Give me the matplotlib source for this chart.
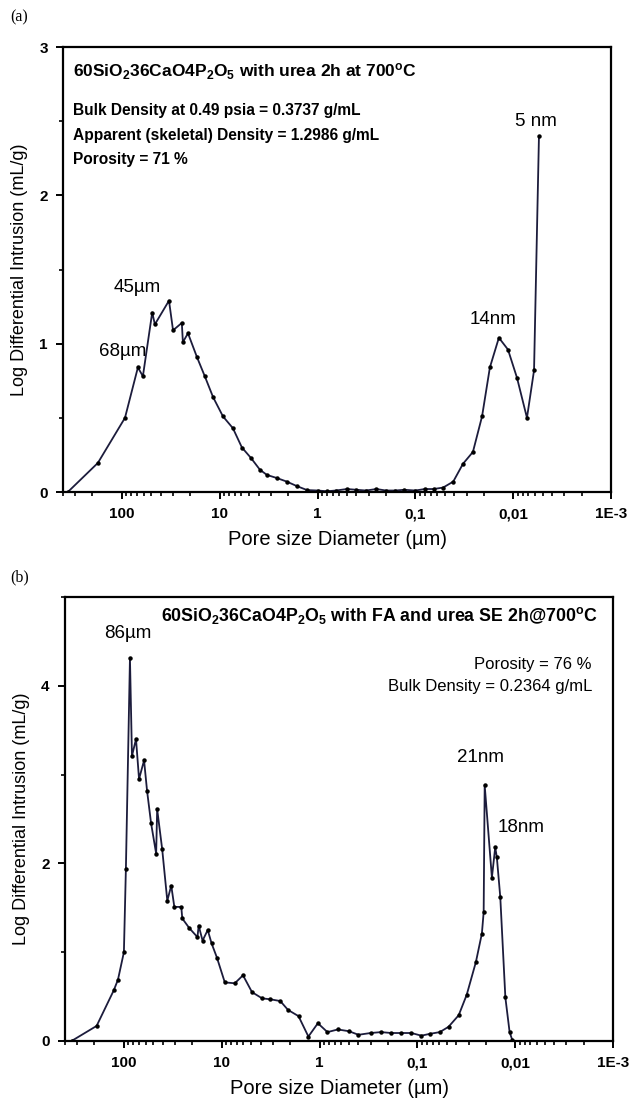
import matplotlib
matplotlib.use("Agg")
import matplotlib.pyplot as plt
from matplotlib.ticker import FixedLocator, LogLocator, NullFormatter, MultipleLocator

plt.rcParams['font.family'] = ['Liberation Sans', 'DejaVu Sans']
plt.rcParams['mathtext.fontset'] = 'custom'
plt.rcParams['mathtext.rm'] = 'Liberation Sans'
plt.rcParams['mathtext.bf'] = 'Liberation Sans:bold'
plt.rcParams['mathtext.it'] = 'Liberation Sans:italic'

# ---------------- data ----------------
# panel (a)
a_diam = [357, 176, 93, 68.6, 61, 49, 46, 33, 30, 24.4, 23.8, 21.1, 17.1, 14.2, 11.7,
          9.27, 7.33, 5.93, 4.8, 3.88, 3.29, 2.6, 2.06, 1.63, 1.28, 1.0, 0.8, 0.65, 0.5,
          0.4, 0.32, 0.25, 0.2, 0.16, 0.13, 0.1, 0.08, 0.065, 0.052, 0.041, 0.0326, 0.0258,
          0.0208, 0.0173, 0.014, 0.0113, 0.00914, 0.00723, 0.00612, 0.00545]
a_intr = [0.0, 0.196, 0.50, 0.84, 0.78, 1.21, 1.13, 1.29, 1.09, 1.14, 1.01, 1.07, 0.91,
          0.78, 0.64, 0.51, 0.43, 0.30, 0.23, 0.15, 0.115, 0.094, 0.07, 0.04, 0.013, 0.01,
          0.005, 0.01, 0.02, 0.015, 0.01, 0.02, 0.01, 0.01, 0.015, 0.01, 0.02, 0.02, 0.03,
          0.07, 0.19, 0.27, 0.51, 0.84, 1.04, 0.96, 0.77, 0.50, 0.82, 2.40]

# panel (b)
b_diam = [343, 190, 127, 115, 100, 95.4, 86.7, 82.7, 75.2, 70, 62.2, 58, 52.7, 46.8, 45.7,
          40.6, 36, 32.8, 30.5, 25.9, 25.3, 21.4, 17.7, 17.2, 15.7, 13.9, 12.7, 11.2, 9.3,
          7.35, 6.06, 4.9, 3.86, 3.2, 2.52, 2.1, 1.64, 1.3, 1.04, 0.83, 0.65, 0.5, 0.4, 0.3,
          0.235, 0.185, 0.146, 0.115, 0.091, 0.075, 0.059, 0.048, 0.0378, 0.0313, 0.0252,
          0.0219, 0.021, 0.0205, 0.0173, 0.016, 0.0154, 0.0142, 0.0126, 0.0114, 0.0107]
b_intr = [0.0, 0.17, 0.57, 0.69, 1.0, 1.94, 4.31, 3.21, 3.40, 2.95, 3.16, 2.82, 2.45, 2.11,
          2.61, 2.16, 1.58, 1.75, 1.51, 1.51, 1.38, 1.27, 1.17, 1.30, 1.13, 1.25, 1.10, 0.94,
          0.66, 0.65, 0.74, 0.55, 0.48, 0.47, 0.45, 0.35, 0.28, 0.05, 0.20, 0.10, 0.13, 0.11,
          0.07, 0.09, 0.10, 0.09, 0.09, 0.09, 0.06, 0.08, 0.10, 0.16, 0.29, 0.52, 0.89, 1.21,
          1.45, 2.88, 1.84, 2.18, 2.07, 1.62, 0.49, 0.10, 0.01]

x_ticks = [100, 10, 1, 0.1, 0.01, 0.001]
x_ticklabels = ["100", "10", "1", "0,1", "0,01", "1E-3"]

LINE = '#1c1c3c'

fig = plt.figure(figsize=(6.32, 11.03), dpi=100)
W, H = 632, 1103

def add_ax(l, r, t, b):
    return fig.add_axes([l / W, 1 - b / H, (r - l) / W, (b - t) / H])

ax1 = add_ax(63, 611, 47, 492)
ax2 = add_ax(65, 613, 597, 1041)

def style(ax, ymax, ymajor, yminor):
    ax.set_xscale('log')
    ax.set_xlim(400, 0.001)
    ax.set_ylim(0, ymax)
    ax.xaxis.set_major_locator(FixedLocator(x_ticks))
    ax.set_xticklabels(x_ticklabels)
    ax.xaxis.set_minor_locator(LogLocator(base=10, subs=range(2, 10), numticks=20))
    ax.xaxis.set_minor_formatter(NullFormatter())
    ax.yaxis.set_major_locator(MultipleLocator(ymajor))
    ax.yaxis.set_minor_locator(MultipleLocator(yminor))
    for s in ax.spines.values():
        s.set_linewidth(1.6)
        s.set_color('black')
    ax.tick_params(which='major', direction='out', length=5, width=1.4,
                   labelsize=11, pad=6, top=False, right=False)
    ax.tick_params(which='minor', direction='out', length=3, width=1.2,
                   top=False, right=False)
    for lab in ax.get_xticklabels() + ax.get_yticklabels():
        lab.set_fontweight('bold')
    ax.set_xlabel("Pore size Diameter (\u00b5m)", fontsize=14.5, labelpad=6)
    ax.set_ylabel("Log Differential Intrusion (mL/g)", fontsize=13, labelpad=8)

style(ax1, 3, 1, 0.5)
style(ax2, 5, 2, 1)

ax1.plot(a_diam, a_intr, color=LINE, lw=1.3, marker='o', ms=2.2, mfc='black', mec='black')
ax2.plot(b_diam, b_intr, color=LINE, lw=1.3, marker='o', ms=2.2, mfc='black', mec='black')

def pt(x, y):
    return (x / W, 1 - y / H)

# panel labels
fig.text(*pt(10, 17), "(a)", family='Liberation Serif', fontsize=11.5, va='center', ha='left')
fig.text(*pt(10, 577), "(b)", family='Liberation Serif', fontsize=11.5, va='center', ha='left')

# panel (a) texts
fig.text(*pt(73, 77), r"60SiO$_\mathbf{2}$36CaO4P$_\mathbf{2}$O$_\mathbf{5}$ with urea 2h at 700$^\mathbf{o}$C",
         fontsize=12.5, fontweight='bold', va='baseline', ha='left')
fig.text(*pt(73, 115), "Bulk Density at 0.49 psia = 0.3737 g/mL", fontsize=11.2, fontweight='bold',
         va='baseline', ha='left')
fig.text(*pt(73, 140), "Apparent (skeletal) Density = 1.2986 g/mL", fontsize=11.2, fontweight='bold',
         va='baseline', ha='left')
fig.text(*pt(73, 164), "Porosity = 71 %", fontsize=11.2, fontweight='bold', va='baseline', ha='left')
fig.text(*pt(536, 121), "5 nm", fontsize=13.5, va='center', ha='center')
fig.text(*pt(493, 320), "14nm", fontsize=13.5, va='center', ha='center')
fig.text(*pt(137, 288), "45\u00b5m", fontsize=13.5, va='center', ha='center')
fig.text(*pt(123, 352), "68\u00b5m", fontsize=13.5, va='center', ha='center')

# panel (b) texts
fig.text(*pt(598, 621), r"60SiO$_\mathbf{2}$36CaO4P$_\mathbf{2}$O$_\mathbf{5}$ with FA and urea SE 2h@700$^\mathbf{o}$C",
         fontsize=12.8, fontweight='bold', va='baseline', ha='right')
fig.text(*pt(128, 634), "86\u00b5m", fontsize=13.5, va='center', ha='center')
fig.text(*pt(592, 664), "Porosity = 76 %", fontsize=12, va='center', ha='right')
fig.text(*pt(592, 687), "Bulk Density = 0.2364 g/mL", fontsize=12, va='center', ha='right')
fig.text(*pt(480, 758), "21nm", fontsize=13.5, va='center', ha='center')
fig.text(*pt(521, 828), "18nm", fontsize=13.5, va='center', ha='center')

fig.savefig("out.png", dpi=100)
